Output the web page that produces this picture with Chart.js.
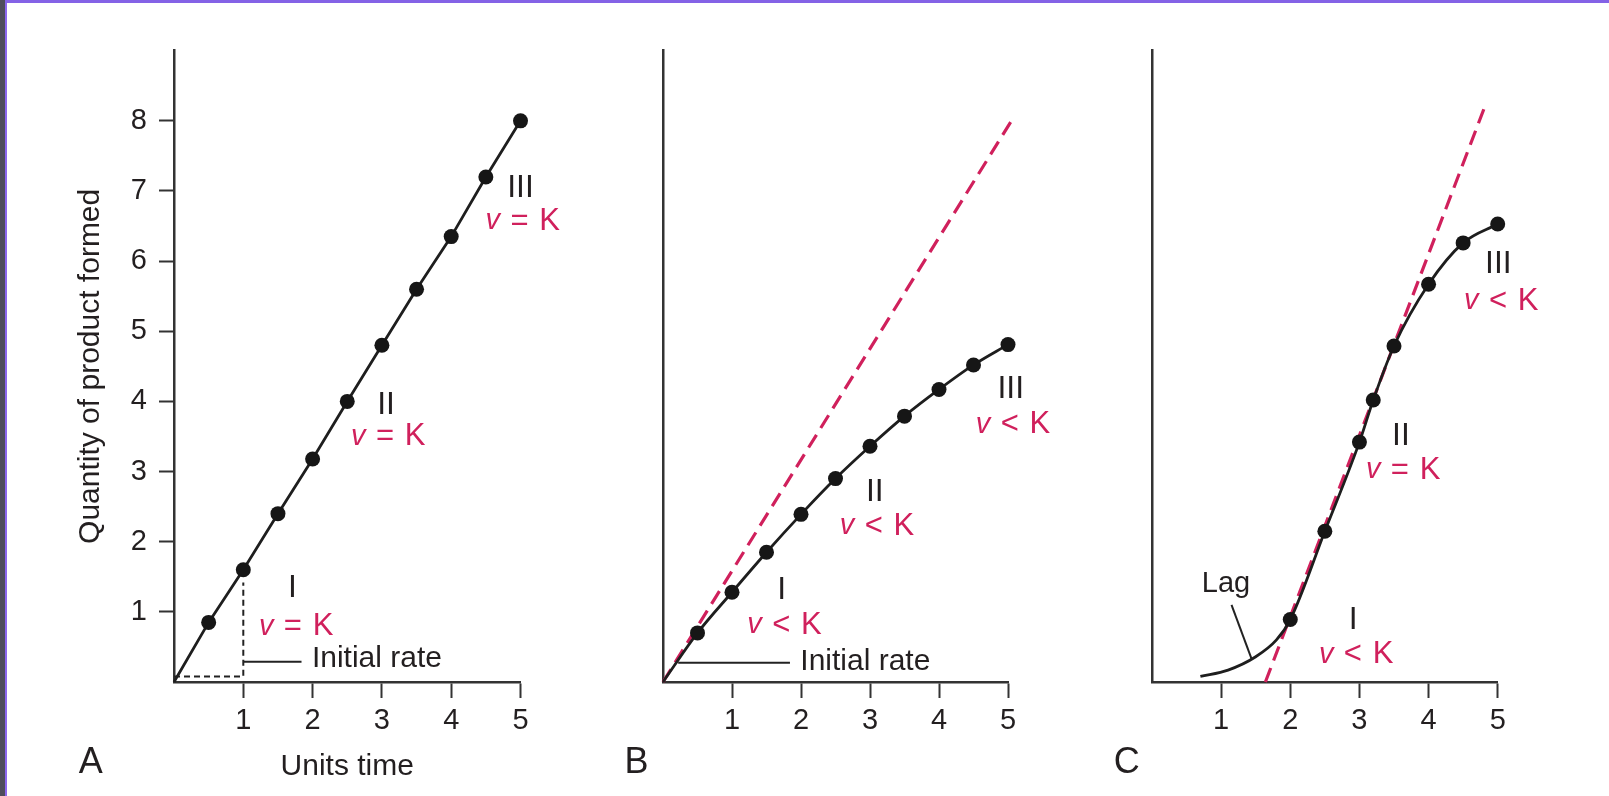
<!DOCTYPE html>
<html><head><meta charset="utf-8">
<script src="https://cdn.jsdelivr.net/npm/chart.js@4.4.1/dist/chart.umd.min.js"></script>
<style>
html,body{margin:0;padding:0;background:#fff;overflow:hidden;}
body{width:1609px;height:796px;position:relative;}
#edgeL{position:absolute;left:0;top:0;width:5px;height:796px;background:#4e4d5d;}
#edgeL2{position:absolute;left:5px;top:0;width:2px;height:796px;background:#8c67ee;}
#edgeT{position:absolute;left:5px;top:0;width:1604px;height:3px;background:#8462e6;}
canvas{position:absolute;top:0;}
</style></head><body>
<div id="edgeL"></div><div id="edgeL2"></div><div id="edgeT"></div>
<canvas id="cA" width="560" height="796" style="left:0px"></canvas>
<canvas id="cB" width="500" height="796" style="left:560px"></canvas>
<canvas id="cC" width="549" height="796" style="left:1060px"></canvas>
<script>
// ---------- data ----------
const xTickValues = [1, 2, 3, 4, 5];
const yTickValues = [1, 2, 3, 4, 5, 6, 7, 8];

// Panel A
const timeA = [0, 0.5, 1, 1.5, 2, 2.5, 3, 3.5, 4, 4.5, 5];
const productA = [0, 0.85, 1.6, 2.4, 3.18, 4.0, 4.8, 5.6, 6.35, 7.2, 8.0];
const guideTimeA = [0, 1, 1];
const guideProductA = [0.08, 0.08, 1.42];
const leaderTimeA = [1, 1.84];
const leaderProductA = [0.29, 0.29];

// Panel B
const timeB = [0, 0.5, 1, 1.5, 2, 2.5, 3, 3.5, 4, 4.5, 5];
const productB = [0, 0.70, 1.28, 1.85, 2.39, 2.90, 3.36, 3.79, 4.17, 4.52, 4.81];
const tangentTimeB = [0, 5.05];
const tangentProductB = [0, 8.0];
const leaderTimeB = [0.22, 1.84];
const leaderProductB = [0.275, 0.275];

// Panel C
const timeC = [0.7, 1.1, 1.5, 1.8, 2, 2.5, 3, 3.2, 3.5, 4, 4.5, 5];
const productC = [0.08, 0.17, 0.36, 0.6, 0.89, 2.15, 3.42, 4.02, 4.79, 5.67, 6.26, 6.53];
const measuredC = [false, false, false, false, true, true, true, true, true, true, true, true];
const tangentTimeC = [1.64, 4.82];
const tangentProductC = [0, 8.22];
const lagTimeC = [1.15, 1.44];
const lagProductC = [1.10, 0.33];

// ---------- styles ----------
const FONT = "'Liberation Sans', Arial, Helvetica, sans-serif";
const INK = '#231f20';
const AXIS = '#333333';
const RED = '#d0205c';

// ---------- annotations (data coordinates) ----------
const annA = [
  {kind: 'num', text: 'III', x: 5.0, y: 7.04},
  {kind: 'rel', op: '=', x: 5.06, y: 6.57},
  {kind: 'num', text: 'II', x: 3.06, y: 3.95},
  {kind: 'rel', op: '=', x: 3.12, y: 3.50},
  {kind: 'num', text: 'I', x: 1.71, y: 1.34},
  {kind: 'rel', op: '=', x: 1.79, y: 0.79},
  {kind: 'left', text: 'Initial rate', x: 1.99, y: 0.33},
  {kind: 'panel', text: 'A', x: -1.2, y: -1.16}
];
const annB = [
  {kind: 'num', text: 'III', x: 5.04, y: 4.17},
  {kind: 'rel', op: '<', x: 5.10, y: 3.67},
  {kind: 'num', text: 'II', x: 3.07, y: 2.71},
  {kind: 'rel', op: '<', x: 3.13, y: 2.22},
  {kind: 'num', text: 'I', x: 1.72, y: 1.31},
  {kind: 'rel', op: '<', x: 1.79, y: 0.81},
  {kind: 'left', text: 'Initial rate', x: 1.99, y: 0.29},
  {kind: 'panel', text: 'B', x: -0.384, y: -1.16}
];
const annC = [
  {kind: 'label', text: 'Lag', x: 1.07, y: 1.40},
  {kind: 'num', text: 'I', x: 2.91, y: 0.88},
  {kind: 'rel', op: '<', x: 2.98, y: 0.39},
  {kind: 'num', text: 'II', x: 3.60, y: 3.50},
  {kind: 'rel', op: '=', x: 3.66, y: 3.02},
  {kind: 'num', text: 'III', x: 5.01, y: 5.95},
  {kind: 'rel', op: '<', x: 5.08, y: 5.43},
  {kind: 'panel', text: 'C', x: -0.366, y: -1.16}
];

// ---------- helpers ----------
const xy = (xs, ys) => xs.map((x, i) => ({x: x, y: ys[i]}));

function annotPlugin(items) {
  return {
    id: 'annot',
    afterDraw(chart) {
      const ctx = chart.ctx, xs = chart.scales.x, ys = chart.scales.y;
      ctx.save();
      ctx.textBaseline = 'middle';
      for (const it of items) {
        const px = xs.getPixelForValue(it.x), py = ys.getPixelForValue(it.y);
        if (it.kind === 'rel') {
          const f = 29;
          ctx.fillStyle = RED;
          ctx.textAlign = 'center';
          ctx.font = `italic ${f}px ${FONT}`;
          ctx.fillText('v', px - 1.1 * f, py);
          ctx.font = `${f + 2}px ${FONT}`;
          ctx.fillText(it.op, px - 0.18 * f, py);
          ctx.font = `${f + 2}px ${FONT}`;
          ctx.fillText('K', px + 0.86 * f, py);
        } else {
          let size = 30, align = 'center';
          if (it.kind === 'num') size = 32;
          if (it.kind === 'panel') size = 36;
          if (it.kind === 'label') size = 29;
          if (it.kind === 'left') align = 'left';
          ctx.fillStyle = INK;
          ctx.textAlign = align;
          ctx.font = `${size}px ${FONT}`;
          ctx.fillText(it.text, px, py);
        }
      }
      ctx.restore();
    }
  };
}

function xScale(title) {
  return {
    type: 'linear', min: 0, max: 5,
    border: {display: true, color: AXIS, width: 2.5},
    grid: {drawOnChartArea: false, drawTicks: true, tickLength: 16, tickWidth: 2, tickColor: AXIS},
    ticks: {stepSize: 1, padding: 6, color: INK, font: {family: FONT, size: 29}},
    afterBuildTicks: s => { s.ticks = xTickValues.map(v => ({value: v})); },
    afterFit: s => { s.height = 114; },
    title: title ? {display: true, text: title, color: INK, font: {family: FONT, size: 30}, padding: {top: 0, bottom: 11}} : {display: false}
  };
}

function yScale(width, withTicks, title) {
  const s = {
    type: 'linear', min: 0, max: 9,
    border: {display: true, color: AXIS, width: 2.5},
    grid: {drawOnChartArea: false, drawTicks: withTicks, tickLength: 15, tickWidth: 2, tickColor: AXIS},
    ticks: {display: withTicks, stepSize: 1, padding: 12, color: INK, font: {family: FONT, size: 29}},
    afterFit: sc => { sc.width = width; },
    title: title ? {display: true, text: title, color: INK, font: {family: FONT, size: 30}, padding: {top: 73, bottom: 0}} : {display: false}
  };
  if (withTicks) s.afterBuildTicks = sc => { sc.ticks = yTickValues.map(v => ({value: v})); };
  return s;
}

function curve(data, radii, cubic) {
  return {
    data: data, showLine: true, borderColor: '#1e1e1e', borderWidth: 2.8,
    pointRadius: radii, pointBackgroundColor: '#161616', pointBorderWidth: 0,
    pointHoverRadius: radii,
    tension: 0, cubicInterpolationMode: cubic ? 'monotone' : 'default', clip: false
  };
}
function plain(data, color, width, dash) {
  return {
    data: data, showLine: true, borderColor: color, borderWidth: width,
    borderDash: dash || [], pointRadius: 0, pointHoverRadius: 0, tension: 0, clip: false
  };
}

function makeChart(id, datasets, xs, ys, padR, annots) {
  return new Chart(document.getElementById(id), {
    type: 'scatter',
    data: {datasets: datasets},
    options: {
      responsive: false, animation: false, devicePixelRatio: 1, events: [],
      layout: {autoPadding: false, padding: {left: 0, right: padR, top: 50.7, bottom: 0}},
      plugins: {legend: {display: false}, tooltip: {enabled: false}},
      scales: {x: xs, y: ys}
    },
    plugins: [annotPlugin(annots)]
  });
}

// ---------- charts ----------
makeChart('cA', [
  curve(xy(timeA, productA), timeA.map(t => t === 0 ? 0 : 7.5), false),
  plain(xy(guideTimeA, guideProductA), '#222', 2, [6, 4]),
  plain(xy(leaderTimeA, leaderProductA), '#222', 2)
], xScale('Units time'), yScale(174, true, 'Quantity of product formed'), 39.5, annA);

makeChart('cB', [
  curve(xy(timeB, productB), timeB.map(t => t === 0 ? 0 : 7.5), true),
  plain(xy(tangentTimeB, tangentProductB), RED, 3.2, [15, 8]),
  plain(xy(leaderTimeB, leaderProductB), '#222', 2)
], xScale(null), yScale(103, false, null), 52, annB);

makeChart('cC', [
  curve(xy(timeC, productC), measuredC.map(m => m ? 7.5 : 0), true),
  plain(xy(tangentTimeC, tangentProductC), RED, 3.2, [15, 8]),
  plain(xy(lagTimeC, lagProductC), '#222', 2)
], xScale(null), yScale(92, false, null), 111.3, annC);
</script>
</body></html>
